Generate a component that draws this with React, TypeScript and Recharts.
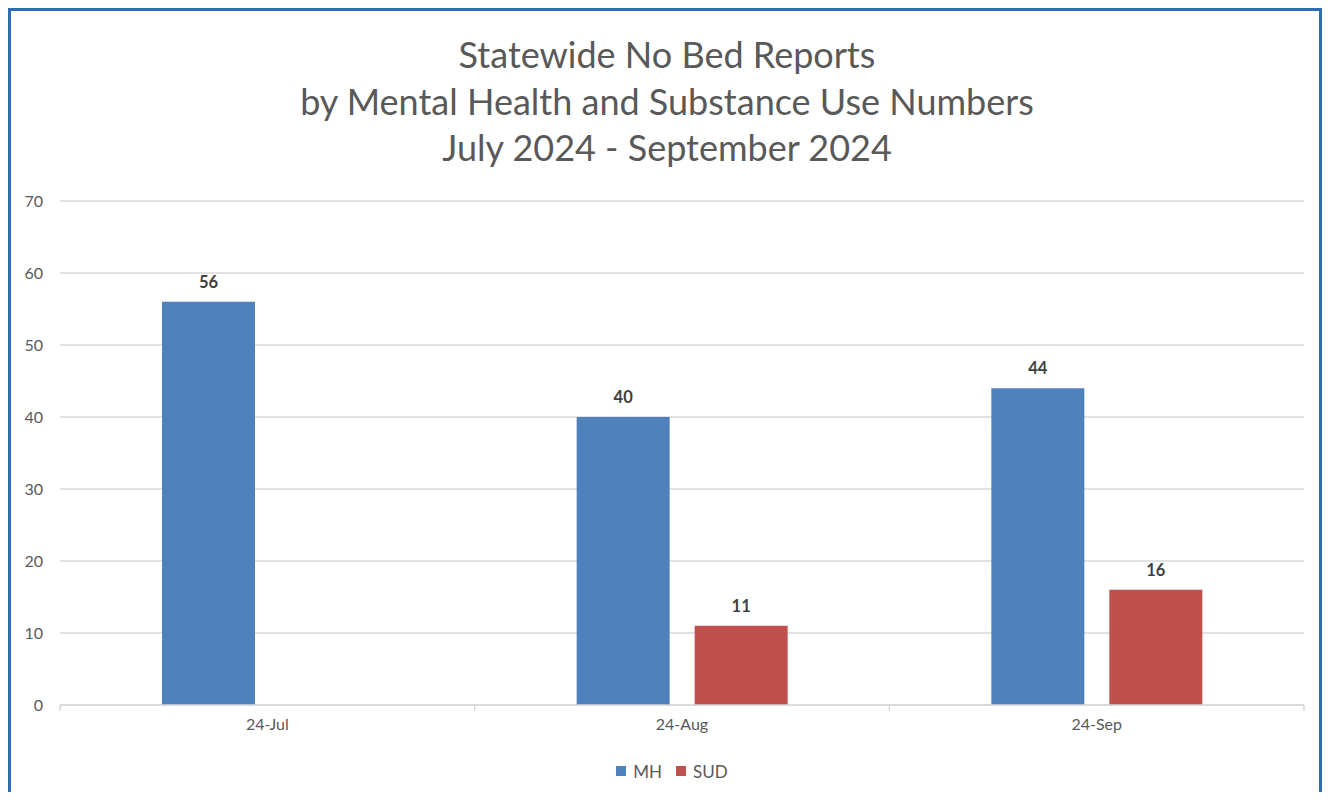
import React from "react";
import { BarChart, Bar, XAxis, YAxis, CartesianGrid, LabelList, Customized } from "recharts";

const categories = ["24-Jul", "24-Aug", "24-Sep"];
const mhValues = [56, 40, 44];
const sudValues: (number | null)[] = [null, 11, 16];
const yTicks = [0, 10, 20, 30, 40, 50, 60, 70];
const titleLines = [
  "Statewide No Bed Reports",
  "by Mental Health and Substance Use Numbers",
  "July 2024 - September 2024",
];
const seriesNames = ["MH", "SUD"];
const seriesColors = ["#4F81BD", "#C0504D"];

const data = categories.map((c, i) => ({ name: c, MH: mhValues[i], SUD: sudValues[i] }));

const FONT = "Lato, 'Liberation Sans', sans-serif";
const BAND = (1304 - 60) / 3;

const XTick = (props: any) => {
  const { x, y, payload, index } = props;
  const left = x - BAND / 2;
  return (
    <g>
      <line x1={left} x2={left} y1={y - 12} y2={y - 6} stroke="#D9D9D9" strokeWidth={1.5} />
      {index === categories.length - 1 && (
        <line x1={x + BAND / 2} x2={x + BAND / 2} y1={y - 12} y2={y - 6} stroke="#D9D9D9" strokeWidth={1.5} />
      )}
      <text x={x} y={y + 13} textAnchor="middle" fill="#595959" fontSize={16} fontFamily={FONT}>
        {payload.value}
      </text>
    </g>
  );
};

const Frame = () => (
  <rect x={9.5} y={9.5} width={1311} height={900} fill="none" stroke="#2E6DB4" strokeWidth={3} />
);

export default function App() {
  return (
    <div style={{ position: "relative", width: 1330, height: 800, margin: -8, background: "#fff", overflow: "hidden" }}>
      <div
        style={{
          position: "absolute",
          left: 0,
          top: 31,
          width: 1334,
          textAlign: "center",
          fontFamily: FONT,
          fontSize: 36,
          lineHeight: "46.5px",
          color: "#595959",
        }}
      >
        {titleLines.map((t) => (
          <div key={t}>{t}</div>
        ))}
      </div>
      <div style={{ position: "absolute", left: 0, top: 0 }}>
        <BarChart
          width={1330}
          height={800}
          data={data}
          margin={{ top: 201, right: 26, bottom: 65, left: 0 }}
          barSize={93}
          barGap={25}
        >
          <CartesianGrid vertical={false} stroke="#D9D9D9" strokeWidth={1.5} />
          <XAxis
            dataKey="name"
            height={30}
            axisLine={{ stroke: "#D9D9D9", strokeWidth: 1.5 }}
            tickLine={false}
            tickSize={0}
            tickMargin={12}
            tick={<XTick />}
            interval={0}
          />
          <YAxis
            width={60}
            domain={[0, 70]}
            ticks={yTicks}
            axisLine={false}
            tickLine={false}
            tickSize={0}
            tickMargin={17}
            tick={{ fill: "#595959", fontSize: 16, fontFamily: FONT }}
          />
          <Bar dataKey="MH" fill="#4F81BD" isAnimationActive={false}>
            <LabelList dataKey="MH" position="top" offset={14} fill="#404040" fontSize={16.5} fontWeight="bold" fontFamily={FONT} />
          </Bar>
          <Bar dataKey="SUD" fill="#C0504D" isAnimationActive={false}>
            <LabelList dataKey="SUD" position="top" offset={14} fill="#404040" fontSize={16.5} fontWeight="bold" fontFamily={FONT} />
          </Bar>
          <Customized component={Frame} />
        </BarChart>
      </div>
      <div
        style={{
          position: "absolute",
          left: 0,
          top: 760,
          width: 1330,
          height: 22,
          display: "flex",
          justifyContent: "center",
          alignItems: "center",
          fontFamily: FONT,
          fontSize: 17,
          color: "#595959",
          paddingLeft: 14,
          boxSizing: "border-box",
        }}
      >
        {seriesNames.map((n, i) => (
          <div key={n} style={{ display: "flex", alignItems: "center", marginRight: i === 0 ? 14 : 0 }}>
            <div style={{ width: 10, height: 10, background: seriesColors[i], marginRight: 7 }} />
            <span>{n}</span>
          </div>
        ))}
      </div>
    </div>
  );
}
